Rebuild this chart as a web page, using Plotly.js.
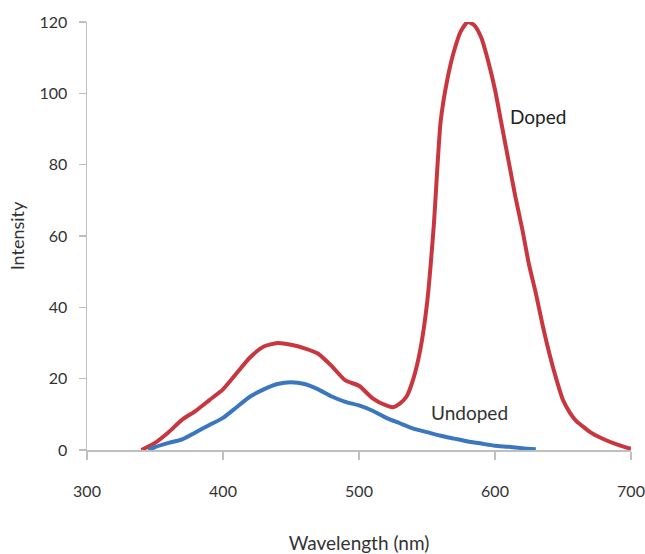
<!DOCTYPE html>
<html>
<head>
<meta charset="utf-8">
<script src="https://cdn.plot.ly/plotly-3.0.1.min.js"></script>
<style>html,body{margin:0;padding:0;background:#fff;}#chart{width:645px;height:554px;}</style>
</head>
<body>
<div id="chart"></div>
<script>
const dopedX = [340,350,360,370,380,390,400,410,420,430,440,450,460,470,480,490,500,510,520,525,530,535,540,545,550,555,560,565,570,575,580,585,590,595,600,605,610,615,620,625,630,635,640,645,650,655,660,665,670,680,690,700];
const dopedY = [0,2,5,8.5,11,14,17,21.5,26,29,30,29.5,28.5,27,23.5,19.5,18,14.5,12.5,12,13,15,20,28,41,63,92,104,112,117.5,120,119,115.5,109,101,91,81,71,62,52,44,35,27,20,14,10.5,8,6.5,5,3,1.5,0.3];
const undopedX = [345,350,360,370,380,390,400,410,420,430,440,450,460,470,480,490,500,510,520,530,540,550,560,570,580,590,600,610,620,630];
const undopedY = [0,0.8,2,3,5,7,9,12,15,17,18.5,19,18.5,17,15,13.5,12.5,11,9,7.5,6,5,4,3.2,2.4,1.8,1.2,0.9,0.5,0.2];
const xTicks = [300,400,500,600,700];
const yTicks = [0,20,40,60,80,100,120];
const labels = ["Doped","Undoped"];

const font = "Lato, 'Open Sans', sans-serif";
const traces = [
  {x: dopedX, y: dopedY, mode: "lines", name: labels[0], line: {color: "#c8373f", width: 4, shape: "spline", smoothing: 0.6}},
  {x: undopedX, y: undopedY, mode: "lines", name: labels[1], line: {color: "#3b77bf", width: 4, shape: "spline", smoothing: 0.6}}
];
const layout = {
  width: 645, height: 554,
  margin: {l: 87, r: 14, t: 22, b: 104},
  paper_bgcolor: "#fff", plot_bgcolor: "#fff",
  showlegend: false,
  font: {family: font, color: "#333", size: 15},
  xaxis: {
    range: [300, 700], tickvals: xTicks, ticktext: xTicks.map(String),
    showgrid: false, zeroline: false, showline: true, linecolor: "#bfbfbf", linewidth: 1.5,
    ticks: "outside", ticklen: 8, tickcolor: "#bfbfbf", tickwidth: 1.5,
    ticklabelstandoff: 18,
    tickfont: {family: font, size: 16, color: "#333"},
    title: {text: "Wavelength (nm)", font: {family: font, size: 19, color: "#333"}, standoff: 41}
  },
  yaxis: {
    range: [0, 120], tickvals: yTicks, ticktext: yTicks.map(String),
    showgrid: false, zeroline: false, showline: true, linecolor: "#bfbfbf", linewidth: 1.5,
    ticks: "outside", ticklen: 7, tickcolor: "#bfbfbf", tickwidth: 1.5,
    ticklabelstandoff: 8,
    tickfont: {family: font, size: 16, color: "#333"},
    title: {text: "Intensity", font: {family: font, size: 18, color: "#333"}, standoff: 10}
  },
  annotations: [
    {x: 631.5, y: 93.5, xref: "x", yref: "y", text: labels[0], showarrow: false, xanchor: "center", font: {family: font, size: 19, color: "#222"}},
    {x: 581.5, y: 10.4, xref: "x", yref: "y", text: labels[1], showarrow: false, xanchor: "center", font: {family: font, size: 19, color: "#333"}}
  ]
};
Plotly.newPlot("chart", traces, layout, {displayModeBar: false, staticPlot: true});
</script>
</body>
</html>
